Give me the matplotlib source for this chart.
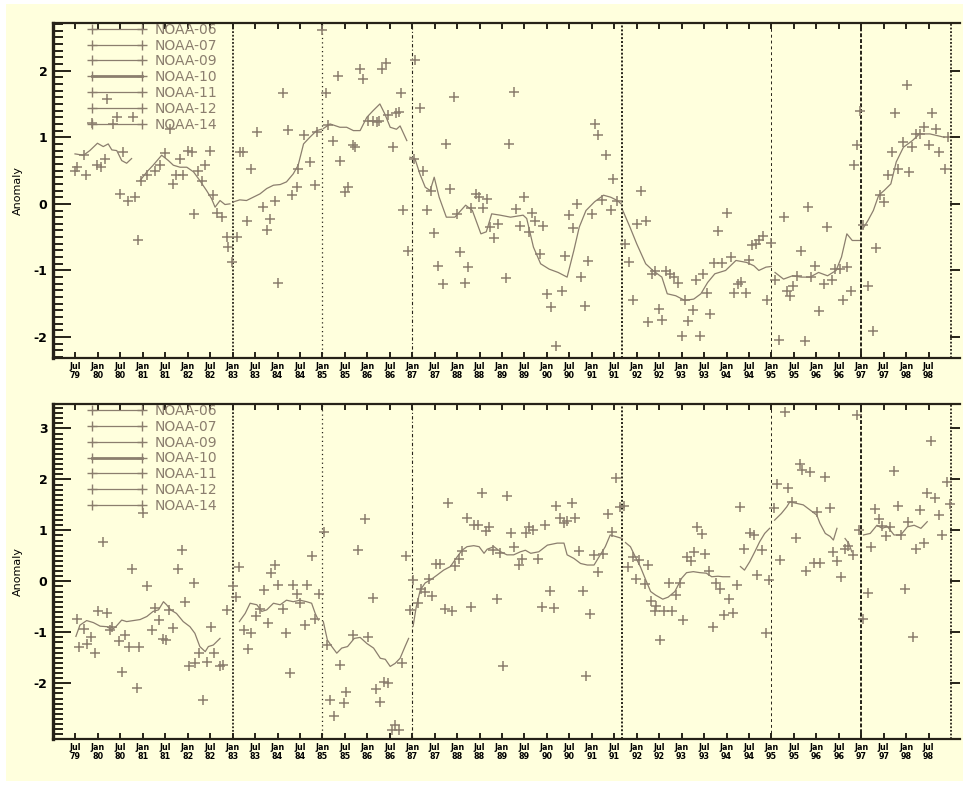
import numpy as np
import matplotlib
matplotlib.use('Agg')
import matplotlib.pyplot as plt
from matplotlib.lines import Line2D
from matplotlib.patches import Rectangle

nan = np.nan

# satellite names and the boundaries between their records
sats = ['NOAA-06', 'NOAA-07', 'NOAA-09', 'NOAA-10', 'NOAA-11', 'NOAA-12', 'NOAA-14']
bounds = [1983.0, 1985.0, 1987.0, 1991.67, 1995.0, 1997.0, 1999.0]

# tick labels, every half year from Jul 79 to Jul 98
tick_pos = [1979.5 + 0.5 * i for i in range(39)]
tick_lab = [('Jul' if i % 2 == 0 else 'Jan') + '\n' + '%02d' % (int(1979.5 + 0.5 * i) % 100) for i in range(39)]

# ---- upper panel: monthly values (crosses)
top_pt_yr = [1979.49, 1979.54, 1979.68, 1979.73, 1979.87, 1979.97, 1980.08, 1980.16, 1980.20, 1980.34,
             1980.42, 1980.49, 1980.57, 1980.66, 1980.78, 1980.83, 1980.90, 1980.97, 1981.09, 1981.27,
             1981.38, 1981.49, 1981.60, 1981.68, 1981.75, 1981.83, 1981.90, 1982.01, 1982.09, 1982.15,
             1982.24, 1982.31, 1982.39, 1982.50, 1982.57, 1982.65, 1982.76, 1982.87, 1982.90, 1982.98,
             1983.09, 1983.16, 1983.24, 1983.31, 1983.42, 1983.54, 1983.67, 1983.76, 1983.83, 1983.94,
             1984.00, 1984.12, 1984.24, 1984.32, 1984.43, 1984.46, 1984.58, 1984.72, 1984.84, 1984.87,
             1984.98, 1985.07, 1985.13, 1985.24, 1985.34, 1985.39, 1985.50, 1985.58, 1985.69, 1985.73,
             1985.83, 1985.91, 1986.02, 1986.13, 1986.21, 1986.25, 1986.33, 1986.42, 1986.46, 1986.58,
             1986.65, 1986.70, 1986.74, 1986.80, 1986.91, 1987.03, 1987.07, 1987.17, 1987.24, 1987.33,
             1987.41, 1987.49, 1987.58, 1987.68, 1987.76, 1987.84, 1987.93, 1987.99, 1988.07, 1988.17,
             1988.25, 1988.32, 1988.42, 1988.49, 1988.57, 1988.67, 1988.73, 1988.82, 1988.90, 1989.08,
             1989.16, 1989.26, 1989.31, 1989.41, 1989.48, 1989.59, 1989.66, 1989.74, 1989.84, 1989.91,
             1990.01, 1990.09, 1990.21, 1990.33, 1990.41, 1990.50, 1990.59, 1990.68, 1990.76, 1990.84,
             1990.91, 1991.00, 1991.08, 1991.14, 1991.22, 1991.32, 1991.42, 1991.48, 1991.57, 1991.73,
             1991.83, 1991.91, 1992.00, 1992.10, 1992.20, 1992.25, 1992.33, 1992.41, 1992.50, 1992.57,
             1992.66, 1992.74, 1992.84, 1992.92, 1993.00, 1993.08, 1993.15, 1993.25, 1993.31, 1993.40,
             1993.48, 1993.56, 1993.64, 1993.73, 1993.81, 1993.91, 1994.00, 1994.09, 1994.17, 1994.26,
             1994.33, 1994.43, 1994.50, 1994.57, 1994.65, 1994.73, 1994.82, 1994.90, 1995.00, 1995.08,
             1995.16, 1995.27, 1995.35, 1995.41, 1995.49, 1995.57, 1995.66, 1995.74, 1995.81, 1995.88,
             1995.97, 1996.07, 1996.16, 1996.24, 1996.35, 1996.42, 1996.52, 1996.60, 1996.68, 1996.77,
             1996.83, 1996.91, 1996.98, 1997.05, 1997.16, 1997.26, 1997.34, 1997.42, 1997.51, 1997.59,
             1997.68, 1997.75, 1997.83, 1997.92, 1998.02, 1998.07, 1998.14, 1998.23, 1998.31, 1998.39,
             1998.50, 1998.58, 1998.66, 1998.74, 1998.86, 1998.94]
top_pt_val = [0.50, 0.55, 0.73, 0.44, 1.21, 0.58, 0.55, 0.68, 1.57, 1.20,
              1.30, 0.15, 0.78, 0.05, 1.30, 0.11, -0.55, 0.35, 0.43, 0.50,
              0.58, 0.76, 1.13, 0.30, 0.43, 0.68, 0.44, 0.80, 0.78, -0.15,
              0.50, 0.35, 0.58, 0.79, 0.13, -0.13, -0.20, -0.50, -0.65, -0.88,
              -0.50, 0.78, 0.78, -0.25, 0.53, 1.08, -0.04, -0.40, -0.23, 0.05,
              -1.19, 1.66, 1.11, 0.13, 0.25, 0.53, 1.03, 0.63, 0.28, 1.08,
              2.61, 1.67, 1.18, 0.94, 1.92, 0.65, 0.18, 0.26, 0.88, 0.85,
              2.02, 1.88, 1.25, 1.25, 1.23, 1.25, 2.03, 2.11, 1.33, 0.85,
              1.36, 1.38, 1.67, -0.09, -0.71, 0.68, 2.16, 1.44, 0.50, -0.09,
              0.20, -0.44, -0.94, -1.21, 0.90, 0.23, 1.61, -0.15, -0.72, -1.19,
              -0.95, -0.06, 0.15, 0.10, -0.06, 0.08, -0.35, -0.52, -0.30, -1.11,
              0.90, 1.68, -0.07, -0.34, 0.11, -0.42, -0.14, -0.26, -0.75, -0.33,
              -1.36, -1.55, -2.13, -1.31, -0.78, -0.16, -0.37, 0.00, -1.10, -1.54,
              -0.86, -0.15, 1.20, 1.03, 0.06, 0.73, -0.09, 0.37, 0.05, -0.61,
              -0.87, -1.44, -0.31, 0.19, -0.26, -1.78, -1.05, -1.01, -1.58, -1.75,
              -1.01, -1.05, -1.10, -1.19, -1.98, -1.45, -1.76, -1.60, -1.15, -1.99,
              -1.06, -1.34, -1.66, -0.89, -0.41, -0.89, -0.13, -0.80, -1.34, -1.20,
              -1.17, -1.34, -0.84, -0.62, -0.60, -0.54, -0.49, -1.44, -0.59, -1.14,
              -2.04, -0.20, -1.31, -1.38, -1.23, -1.09, -0.71, -2.06, -0.04, -1.10,
              -0.94, -1.61, -1.21, -0.35, -1.14, -0.98, -0.98, -1.45, -0.95, -1.31,
              0.58, 0.88, 1.40, -0.32, -1.23, -1.91, -0.67, 0.13, 0.03, 0.43,
              0.78, 1.37, 0.53, 0.93, 1.78, 0.48, 0.85, 1.05, 1.05, 1.16,
              0.88, 1.36, 1.13, 0.78, 0.53, 1.01]

# ---- upper panel: smoothed curve, nan separates satellites / gaps
top_ln_yr = [1979.49, 1979.68, 1979.82, 1979.99, 1980.12, 1980.23, 1980.31, 1980.42, 1980.53, 1980.64, 1980.75, nan,
             1980.94, 1981.09, 1981.23, 1981.42, 1981.57, 1981.68, 1981.83, 1981.98, 1982.13, 1982.27, 1982.42,
             1982.53, 1982.61, 1982.72, 1982.83, 1982.94, nan,
             1983.02, 1983.16, 1983.31, 1983.46, 1983.61, 1983.76, 1983.91, 1984.06, 1984.20, 1984.35, 1984.46,
             1984.58, 1984.72, 1984.87, 1984.98, nan,
             1985.02, 1985.17, 1985.39, 1985.54, 1985.69, 1985.84, 1985.99, 1986.13, 1986.28, 1986.39, 1986.51,
             1986.65, 1986.73, 1986.88, nan,
             1986.95, 1987.06, 1987.17, 1987.29, 1987.40, 1987.49, 1987.60, 1987.76, 1987.95, 1988.19, 1988.34,
             1988.53, 1988.65, 1988.77, 1988.96, 1989.19, 1989.47, 1989.55, 1989.70, 1989.86, 1990.05, 1990.25,
             1990.45, 1990.60, 1990.72, 1990.87, 1991.06, 1991.26, 1991.42, 1991.57, 1991.65, nan,
             1991.69, 1991.85, 1992.00, 1992.20, 1992.36, 1992.56, 1992.68, 1992.87, 1993.07, 1993.27, 1993.43,
             1993.58, 1993.74, 1993.98, 1994.21, 1994.45, 1994.61, 1994.72, 1994.88, 1995.00, nan,
             1995.08, 1995.27, 1995.47, 1995.66, 1995.86, 1996.05, 1996.25, 1996.44, 1996.56, 1996.68, 1996.80,
             1996.96, nan,
             1997.04, 1997.15, 1997.27, 1997.39, 1997.51, 1997.66, 1997.78, 1997.94, 1998.14, 1998.30, 1998.53,
             1998.85]
top_ln_val = [0.75, 0.73, 0.80, 0.91, 0.86, 0.90, 0.81, 0.80, 0.65, 0.61, 0.68, nan,
              0.35, 0.48, 0.58, 0.73, 0.65, 0.58, 0.55, 0.55, 0.48, 0.35, 0.20,
              0.08, -0.05, 0.05, -0.01, 0.00, nan,
              0.03, 0.06, 0.05, 0.10, 0.15, 0.23, 0.28, 0.29, 0.33, 0.45, 0.58,
              0.90, 1.00, 1.10, 1.12, nan,
              1.13, 1.20, 1.15, 1.15, 1.10, 1.10, 1.30, 1.40, 1.50, 1.35, 1.15,
              1.12, 1.17, 0.95, nan,
              0.70, 0.68, 0.45, 0.25, 0.20, 0.40, 0.10, -0.20, -0.20, -0.02, -0.10,
              -0.45, -0.42, -0.15, -0.17, -0.20, -0.17, -0.22, -0.65, -0.90, -0.98, -1.03,
              -1.10, -0.70, -0.35, -0.10, 0.03, 0.13, 0.10, 0.05, 0.00, nan,
              -0.10, -0.35, -0.60, -0.90, -1.00, -1.10, -1.35, -1.38, -1.45, -1.43, -1.35,
              -1.18, -1.05, -1.00, -0.85, -0.88, -0.93, -1.00, -0.95, -0.94, nan,
              -1.03, -1.13, -1.08, -1.10, -1.10, -1.03, -1.08, -1.00, -0.80, -0.45, -0.55,
              -0.55, nan,
              -0.37, -0.25, -0.10, 0.13, 0.20, 0.30, 0.63, 0.85, 0.95, 1.05, 1.05,
              1.00]

# ---- lower panel: monthly values (crosses)
bot_pt_yr = [1979.53, 1979.59, 1979.68, 1979.76, 1979.84, 1979.94, 1980.01, 1980.11, 1980.20, 1980.27,
             1980.31, 1980.46, 1980.53, 1980.60, 1980.70, 1980.77, 1980.86, 1980.92, 1981.01, 1981.10,
             1981.20, 1981.27, 1981.35, 1981.46, 1981.51, 1981.59, 1981.68, 1981.79, 1981.87, 1981.94,
             1982.03, 1982.13, 1982.16, 1982.26, 1982.35, 1982.44, 1982.51, 1982.59, 1982.72, 1982.79,
             1982.87, 1983.00, 1983.08, 1983.15, 1983.25, 1983.35, 1983.42, 1983.52, 1983.61, 1983.70,
             1983.78, 1983.86, 1983.94, 1984.02, 1984.12, 1984.19, 1984.28, 1984.35, 1984.43, 1984.50,
             1984.61, 1984.66, 1984.76, 1984.84, 1984.93, 1985.04, 1985.11, 1985.18, 1985.26, 1985.40,
             1985.47, 1985.53, 1985.69, 1985.80, 1985.95, 1986.02, 1986.12, 1986.20, 1986.29, 1986.38,
             1986.45, 1986.55, 1986.62, 1986.70, 1986.77, 1986.87, 1986.96, 1987.02, 1987.12, 1987.20,
             1987.29, 1987.37, 1987.44, 1987.52, 1987.61, 1987.72, 1987.79, 1987.89, 1987.96, 1988.04,
             1988.11, 1988.21, 1988.30, 1988.37, 1988.46, 1988.56, 1988.65, 1988.70, 1988.80, 1988.88,
             1988.95, 1989.02, 1989.11, 1989.20, 1989.27, 1989.37, 1989.44, 1989.54, 1989.61, 1989.69,
             1989.80, 1989.89, 1989.96, 1990.06, 1990.15, 1990.21, 1990.30, 1990.39, 1990.45, 1990.55,
             1990.63, 1990.71, 1990.80, 1990.88, 1990.96, 1991.05, 1991.14, 1991.24, 1991.35, 1991.46,
             1991.54, 1991.63, 1991.71, 1991.81, 1991.91, 1991.99, 1992.06, 1992.18, 1992.25, 1992.31,
             1992.40, 1992.44, 1992.51, 1992.61, 1992.71, 1992.78, 1992.88, 1992.97, 1993.04, 1993.13,
             1993.20, 1993.28, 1993.35, 1993.45, 1993.52, 1993.62, 1993.70, 1993.77, 1993.86, 1993.95,
             1994.06, 1994.14, 1994.23, 1994.31, 1994.40, 1994.52, 1994.62, 1994.69, 1994.79, 1994.87,
             1994.94, 1995.05, 1995.13, 1995.20, 1995.30, 1995.37, 1995.46, 1995.54, 1995.63, 1995.68,
             1995.77, 1995.85, 1995.94, 1996.01, 1996.09, 1996.20, 1996.31, 1996.37, 1996.46, 1996.55,
             1996.63, 1996.71, 1996.82, 1996.90, 1996.95, 1997.03, 1997.14, 1997.21, 1997.30, 1997.40,
             1997.47, 1997.55, 1997.64, 1997.72, 1997.81, 1997.89, 1997.97, 1998.04, 1998.15, 1998.21,
             1998.30, 1998.40, 1998.47, 1998.56, 1998.65, 1998.73, 1998.81, 1998.90, 1998.97]
bot_pt_val = [-0.73, -1.28, -0.94, -1.22, -1.10, -1.41, -0.59, 0.78, -0.63, -0.95,
              -0.89, -1.18, -1.77, -1.05, -1.29, 0.24, -2.10, -1.29, 1.35, -0.10,
              -0.95, -0.53, -0.76, -1.14, -1.16, -0.56, -0.92, 0.24, 0.61, -0.40,
              -1.67, -0.04, -1.61, -1.41, -2.33, -1.59, -0.89, -1.40, -1.67, -1.64,
              -0.56, -0.09, -0.31, 0.29, -0.95, -1.33, -1.02, -0.69, -0.55, -0.17,
              -0.81, 0.17, 0.32, -0.07, -0.55, -1.01, -1.80, -0.07, -0.24, -0.42,
              -0.86, -0.07, 0.50, -0.73, -0.24, 0.97, -1.25, -2.33, -2.65, -1.64,
              -2.39, -2.18, -1.05, 0.61, 1.22, -1.10, -0.33, -2.12, -2.36, -1.97,
              -1.99, -2.92, -2.82, -2.92, -1.61, 0.50, -0.56, 0.03, -0.42, -0.16,
              -0.20, 0.04, -0.29, 0.34, 0.34, -0.55, 1.54, -0.59, 0.30, 0.43,
              0.60, 1.25, -0.50, 1.10, 1.10, 1.74, 0.99, 1.06, 0.61, -0.35,
              0.56, -1.66, 1.67, 0.95, 0.68, 0.32, 0.43, 0.94, 1.07, 1.01,
              0.43, -0.50, 1.10, -0.18, -0.53, 1.48, 1.25, 1.15, 1.19, 1.54,
              1.25, 0.60, -0.18, -1.86, -0.64, 0.52, 0.19, 0.54, 1.33, 0.97,
              2.02, 1.45, 1.48, 0.29, 0.48, 0.04, 0.41, -0.05, 0.32, -0.38,
              -0.58, -0.48, -1.15, -0.59, -0.03, -0.58, -0.27, -0.03, -0.76, 0.48,
              0.39, 0.58, 1.07, 0.93, 0.54, 0.21, -0.90, -0.03, -0.16, -0.66,
              -0.35, -0.63, -0.07, 1.45, 0.63, 0.95, 0.91, 0.12, 0.61, -1.01,
              0.03, 1.43, 1.91, 0.42, 3.33, 1.84, 1.56, 0.86, 2.31, 2.18,
              0.21, 2.15, 0.35, 1.37, 0.35, 2.04, 1.43, 0.58, 0.39, 0.08,
              0.63, 0.69, 0.52, 3.26, 1.01, -0.73, -0.22, 0.67, 1.41, 1.22,
              1.08, 0.89, 1.07, 2.17, 1.48, 0.91, -0.16, 1.17, -1.10, 0.63,
              1.40, 0.76, 1.73, 2.76, 1.63, 1.30, 0.91, 1.95, 1.52]

# ---- lower panel: smoothed curve
bot_ln_yr = [1979.51, 1979.60, 1979.75, 1979.90, 1980.05, 1980.20, 1980.31, 1980.40, 1980.53, 1980.64, 1980.79,
             1980.94, 1981.09, 1981.23, 1981.35, 1981.46, 1981.53, 1981.62, 1981.75, 1981.90, 1982.05, 1982.16,
             1982.27, 1982.39, 1982.46, 1982.57, 1982.72, nan,
             1983.15, 1983.28, 1983.39, 1983.54, 1983.65, 1983.76, 1983.91, 1984.06, 1984.20, 1984.35, 1984.50,
             1984.65, 1984.76, 1984.84, 1984.91, nan,
             1985.02, 1985.11, 1985.21, 1985.32, 1985.43, 1985.56, 1985.71, 1985.84, 1985.99, 1986.14, 1986.29,
             1986.40, 1986.51, 1986.62, 1986.73, 1986.84, 1986.92, nan,
             1987.02, 1987.09, 1987.18, 1987.29, 1987.41, 1987.55, 1987.70, 1987.85, 1988.00, 1988.11, 1988.22,
             1988.37, 1988.49, 1988.60, 1988.67, 1988.82, 1988.97, 1989.11, 1989.26, 1989.41, 1989.52, 1989.64,
             1989.82, 1990.01, 1990.23, 1990.38, 1990.45, 1990.60, 1990.75, 1990.90, 1991.05, 1991.19, 1991.30,
             1991.41, 1991.53, 1991.68, nan,
             1991.75, 1991.86, 1991.97, 1992.08, 1992.20, 1992.31, 1992.42, 1992.58, 1992.70, 1992.85, 1993.00,
             1993.11, 1993.26, 1993.41, 1993.55, 1993.67, 1993.81, 1993.92, 1994.07, nan,
             1994.31, 1994.40, 1994.52, 1994.63, 1994.74, 1994.85, 1994.96, nan,
             1995.07, 1995.22, 1995.34, 1995.41, 1995.56, 1995.71, 1995.86, 1996.01, 1996.08, 1996.20, 1996.31,
             1996.38, 1996.46, nan, 1996.64, 1996.72, 1996.79, nan,
             1997.05, 1997.20, 1997.35, 1997.47, 1997.58, 1997.73, 1997.88, 1998.03, 1998.18, 1998.33, 1998.47]
bot_ln_val = [-1.08, -0.86, -0.77, -0.81, -0.88, -0.89, -0.95, -0.89, -0.76, -0.79, -0.77,
              -0.75, -0.69, -0.59, -0.56, -0.40, -0.46, -0.56, -0.63, -0.79, -0.89, -1.02,
              -1.28, -1.38, -1.28, -1.25, -1.12, nan,
              -0.79, -0.63, -0.43, -0.46, -0.59, -0.56, -0.43, -0.46, -0.37, -0.40, -0.37,
              -0.40, -0.43, -0.63, -0.76, nan,
              -0.79, -1.15, -1.28, -1.41, -1.31, -1.28, -1.12, -1.10, -1.22, -1.31, -1.51,
              -1.53, -1.67, -1.61, -1.51, -1.28, -1.12, nan,
              -0.88, -0.50, -0.17, -0.03, 0.03, 0.12, 0.22, 0.29, 0.48, 0.61, 0.68,
              0.70, 0.68, 0.55, 0.63, 0.68, 0.58, 0.52, 0.52, 0.58, 0.61, 0.55,
              0.58, 0.71, 0.75, 0.75, 0.52, 0.45, 0.35, 0.32, 0.32, 0.52, 0.68,
              0.91, 0.88, 0.84, nan,
              0.76, 0.68, 0.48, 0.29, 0.03, -0.20, -0.27, -0.35, -0.31, -0.20, 0.06,
              0.17, 0.19, 0.17, 0.16, 0.09, 0.10, 0.09, 0.09, nan,
              0.29, 0.22, 0.39, 0.58, 0.78, 0.94, 1.04, nan,
              1.20, 1.33, 1.46, 1.56, 1.53, 1.50, 1.40, 1.30, 1.14, 0.94, 0.88,
              0.81, 1.04, nan, 0.84, 0.75, 0.58, nan,
              0.91, 0.94, 1.10, 1.04, 1.08, 0.91, 0.91, 1.07, 1.10, 1.04, 1.17]

col = '#8b7e6e'
bg = '#ffffdd'
ink = '#262218'
# separator styles (dash pattern, width) for each satellite boundary
vstyles = [((0, (1, 1)), 1.3), ((0, (1, 2.5)), 0.9), ((0, (3, 2, 1, 2)), 0.8), ((0, (1, 1)), 1.4),
           ((0, (3, 3)), 0.7), ((0, (2, 1)), 1.4), ((0, (1, 1)), 1.3)]

fig = plt.figure(figsize=(9.69, 7.85), dpi=100)
fig.patch.set_facecolor('white')
fig.patches.append(Rectangle((6 / 969, 0.005), 957 / 969, 0.99, transform=fig.transFigure,
                             facecolor=bg, edgecolor='none', zorder=-10))


def panel(rect, pyr, pval, lyr, lval, ylim, yticks):
    ax = fig.add_axes(rect)
    ax.set_facecolor(bg)
    ax.set_xlim(1979.0, 1999.2)
    ax.set_ylim(*ylim)
    ax.plot(pyr, pval, ls='none', marker='+', ms=7.5, mew=1.1, color=col, zorder=3)
    ax.plot(lyr, lval, color=col, lw=0.9, zorder=3)
    for b, (ls, lw) in zip(bounds, vstyles):
        ax.axvline(b, color=ink, ls=ls, lw=lw, zorder=2)

    ax.set_xticks(tick_pos)
    ax.set_xticklabels(tick_lab, fontsize=5.8, fontweight='bold', linespacing=0.95)
    ax.tick_params(axis='x', which='major', direction='in', top=True, bottom=True,
                   length=4.5, width=1.4, color=ink, pad=3)
    ax.set_yticks(yticks)
    ax.set_yticklabels(['%d' % v for v in yticks], fontsize=9, fontweight='bold')
    ax.yaxis.set_minor_locator(plt.MultipleLocator(0.1))
    ax.tick_params(axis='y', which='major', direction='in', left=True, right=False,
                   length=13, width=1.4, color=ink, pad=4)
    ax.tick_params(axis='y', which='minor', direction='in', left=True, right=False,
                   length=7, width=1.4, color=ink)
    ax.spines['right'].set_visible(False)
    ax.spines['left'].set_linewidth(2.4)
    ax.spines['top'].set_linewidth(1.6)
    ax.spines['bottom'].set_linewidth(1.6)
    for s in ax.spines.values():
        s.set_color(ink)
    ax.set_ylabel('Anomaly', fontsize=8, labelpad=8)

    # right-hand ticks (short, major only)
    ax2 = ax.twinx()
    ax2.set_ylim(*ylim)
    ax2.set_yticks(yticks)
    ax2.set_yticklabels([])
    ax2.tick_params(axis='y', direction='in', length=7, width=1.4, color=ink)
    for s in ax2.spines.values():
        s.set_visible(False)

    handles = [Line2D([], [], color=col, marker='+', ms=7.5, mew=1.0,
                      lw=(2.0 if s == 'NOAA-10' else 0.9)) for s in sats]
    ax.legend(handles, sats, loc='upper left', bbox_to_anchor=(0.0386, 1.0), frameon=False,
              numpoints=2, handlelength=4.2, handletextpad=0.6, labelspacing=0.13,
              borderpad=0, borderaxespad=0, fontsize=10, labelcolor=col)
    return ax


panel([53 / 969, 1 - 357.7 / 785, 907 / 969, 335 / 785], top_pt_yr, top_pt_val,
      top_ln_yr, top_ln_val, (-2.31, 2.72), [-2, -1, 0, 1, 2])
panel([53 / 969, 1 - 739.3 / 785, 907 / 969, 335.3 / 785], bot_pt_yr, bot_pt_val,
      bot_ln_yr, bot_ln_val, (-3.10, 3.48), [-2, -1, 0, 1, 2, 3])

fig.savefig('out.png', dpi=100, facecolor=fig.get_facecolor())
